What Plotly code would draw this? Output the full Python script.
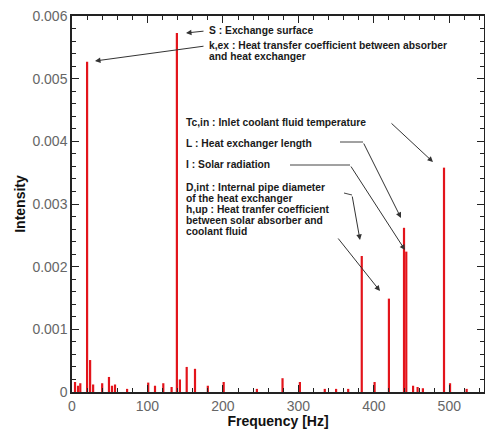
import plotly.graph_objects as go

# ---- data ----
freq_hz = [4, 8, 11, 20, 24, 28, 40, 49, 53, 57, 73, 101, 110, 121, 132, 139, 143,
           152, 163, 180, 201, 245, 279, 302, 335, 350, 366, 384, 401, 420, 440,
           443, 452, 458, 465, 493, 501, 523]
intensity = [0.00016, 0.00010, 0.00014, 0.00527, 0.00051, 0.00012, 0.00014, 0.00024,
             0.00010, 0.00012, 0.00005, 0.00015, 0.00010, 0.00014, 0.00008, 0.00573,
             0.00020, 0.00040, 0.00037, 0.00010, 0.00016, 0.00005, 0.00022, 0.00016,
             0.00005, 0.00005, 0.00005, 0.00217, 0.00016, 0.00149, 0.00262, 0.00224,
             0.00010, 0.00008, 0.00006, 0.00358, 0.00014, 0.00005]

x_ticks = [0, 100, 200, 300, 400, 500]
x_ticktext = ["0", "100", "200", "300", "400", "500"]
y_ticks = [0, 0.001, 0.002, 0.003, 0.004, 0.005, 0.006]
y_ticktext = ["0", "0.001", "0.002", "0.003", "0.004", "0.005", "0.006"]

labels = [
    ["S : Exchange surface"],
    ["k,ex : Heat transfer coefficient between absorber", "and heat exchanger"],
    ["Tc,in : Inlet coolant fluid temperature"],
    ["L : Heat exchanger length"],
    ["I : Solar radiation"],
    ["D,int : Internal pipe diameter", "of the heat exchanger"],
    ["h,up : Heat tranfer coefficient", "between solar absorber and", "coolant fluid"],
]

X_MAX = 546
Y_MAX = 0.006

# layout geometry (pixels)
W, H = 485, 429
L_M, R_M, T_M, B_M = 72, 1, 16, 37
PW = W - L_M - R_M
PH = H - T_M - B_M


def px(xp, yp):
    """pixel position in the page -> data coordinates"""
    return (xp - L_M) / PW * X_MAX, (H - B_M - yp) / PH * Y_MAX


# spikes built from the data
xs, ys = [], []
for f, v in zip(freq_hz, intensity):
    xs += [f, f, None]
    ys += [0, v, None]

fig = go.Figure()
fig.add_trace(go.Scatter(x=xs, y=ys, mode="lines",
                         line=dict(color="#e3141b", width=2.2),
                         hoverinfo="skip", showlegend=False))
# invisible trace that carries the mirrored (top / right) axes
fig.add_trace(go.Scatter(x=[None], y=[None], xaxis="x2", yaxis="y2", mode="lines",
                         hoverinfo="skip", showlegend=False))

# label positions (left edge, vertical centre of first line) in pixels
label_pos = [(208, 30), (208, 45), (185, 122), (185, 143), (185, 164), (185, 187), (185, 209.5)]
LINE_H = 11
for lines, (lx, ly) in zip(labels, label_pos):
    for i, line in enumerate(lines):
        x, y = px(lx, ly + i * LINE_H)
        fig.add_annotation(x=x, y=y, xref="x", yref="y", text="<b>" + line + "</b>",
                           showarrow=False, xanchor="left", yanchor="middle", align="left",
                           borderpad=0,
                           font=dict(family="Liberation Sans", size=10.3, color="#1a1a1a"))

# connector segments (pixels)
segments = [((340, 142), (363, 142)), ((290, 165), (350, 165)), ((344, 193), (352, 195))]
for (a, b) in segments:
    x0, y0 = px(*a)
    x1, y1 = px(*b)
    fig.add_shape(type="line", x0=x0, y0=y0, x1=x1, y1=y1, xref="x", yref="y",
                  line=dict(color="#444444", width=1))

# arrows: tail -> tip (pixels)
arrows = [((205, 31), (186, 33)), ((205, 46), (95, 61)), ((390, 122), (433, 162)),
          ((363, 142), (401, 218)), ((350, 165), (405, 250)), ((352, 195), (360, 240)),
          ((337, 237), (380, 291))]
for (t, h) in arrows:
    ax, ay = px(*t)
    hx, hy = px(*h)
    fig.add_annotation(x=hx, y=hy, ax=ax, ay=ay, xref="x", yref="y", axref="x", ayref="y",
                       text="", showarrow=True, arrowhead=2, arrowsize=1.1, arrowwidth=1,
                       arrowcolor="#333333", standoff=0, startstandoff=0)

axis_common = dict(
    showgrid=False, zeroline=False, showline=True, linecolor="#222222", linewidth=1.5,
    ticks="inside", ticklen=7, tickwidth=1.3, tickcolor="#222222",
    tickfont=dict(family="Liberation Sans", size=14, color="#666666"),
)
x_minor = dict(dtick=20, ticks="inside", ticklen=4, tickcolor="#222222")
y_minor = dict(dtick=0.0002, ticks="inside", ticklen=4, tickcolor="#222222")

fig.update_layout(
    xaxis=dict(range=[0, X_MAX], tickvals=x_ticks, ticktext=x_ticktext, minor=x_minor,
               title=dict(text="<b>Frequency [Hz]</b>", standoff=2,
                          font=dict(family="Liberation Sans", size=14, color="#111111")),
               **axis_common),
    yaxis=dict(range=[0, Y_MAX], tickvals=y_ticks, ticktext=y_ticktext, minor=y_minor,
               title=dict(text="<b>Intensity</b>", standoff=4,
                          font=dict(family="Liberation Sans", size=14, color="#111111")),
               **axis_common),
    xaxis2=dict(range=[0, X_MAX], tickvals=x_ticks, showticklabels=False, minor=x_minor,
                overlaying="x", side="top", anchor="y2", **axis_common),
    yaxis2=dict(range=[0, Y_MAX], tickvals=y_ticks, showticklabels=False, minor=y_minor,
                overlaying="y", side="right", anchor="x2", **axis_common),
    width=W, height=H, margin=dict(l=L_M, r=R_M, t=T_M, b=B_M),
    plot_bgcolor="white", paper_bgcolor="white",
)

fig.write_html("out.html", config={"displayModeBar": False},
               post_script="document.body.style.margin='0px';")
